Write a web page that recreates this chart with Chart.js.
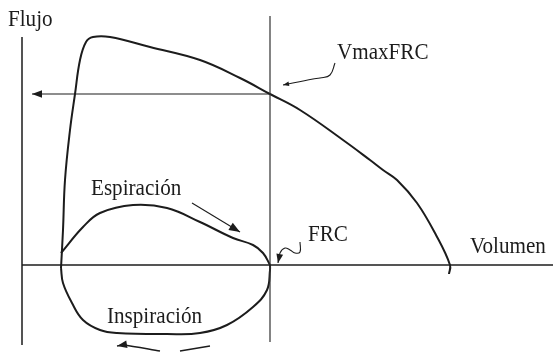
<!DOCTYPE html>
<html>
<head>
<meta charset="utf-8">
<script src="https://cdn.jsdelivr.net/npm/chart.js@4/dist/chart.umd.min.js"></script>
<style>
  html, body { margin: 0; padding: 0; background: #fff; }
  canvas { display: block; }
</style>
</head>
<body>
<canvas id="loop" width="553" height="354"></canvas>
<script>
// Curva flujo-volumen: volumen en x, flujo en y (unidades arbitrarias)

// espiración forzada máxima
const volMax  = [0.78, 0.82, 0.86, 0.96, 1.06, 1.16, 1.28, 1.42, 1.76, 2.56, 3.56, 4.36, 4.96, 5.56, 6.42, 6.96, 7.22, 7.5, 7.9, 8.28, 8.56, 8.54];
const flowMax = [-0.075, 0.875, 2.125, 3.375, 4.275, 5.125, 5.575, 5.7, 5.7, 5.45, 5.125, 4.675, 4.275, 3.875, 3.125, 2.625, 2.375, 2.125, 1.55, 0.75, 0, -0.225];

// volumen corriente: espiración
const volExp  = [0.78, 1.22, 1.56, 2.22, 2.9, 3.56, 4.22, 4.62, 4.82, 4.96];
const flowExp = [0.3, 0.95, 1.3, 1.5, 1.425, 1.075, 0.675, 0.5, 0.3, 0];

// volumen corriente: inspiración
const volInsp  = [4.96, 4.96, 4.9, 4.62, 4.1, 3.56, 2.9, 1.9, 1.56, 1.22, 1.0, 0.82, 0.78];
const flowInsp = [0, -0.125, -0.625, -1.05, -1.5, -1.7, -1.725, -1.7, -1.625, -1.375, -0.95, -0.45, -0.075];

// referencias
const frcVolume   = 4.96;
const vmaxFrcFlow = 4.275;

// flechas y llamadas
const espArrowVol  = [3.4, 4.36];
const espArrowFlow = [1.55, 0.825];
const inspArrowVol  = [[3.76, 3.16], [2.76, 2.02, 1.9]];
const inspArrowFlow = [[-2.025, -2.15], [-2.15, -2.0, -2.025]];
const vmaxCallVol  = [6.26, 6.16, 5.96, 5.82, 5.22];
const vmaxCallFlow = [5.05, 4.75, 4.675, 4.65, 4.5];
const frcCallVol  = [5.56, 5.56, 5.46, 5.36, 5.26, 5.16, 5.12];
const frcCallFlow = [0.575, 0.325, 0.3, 0.375, 0.425, 0.3, 0.05];

const labelTexts = ['Flujo', 'VmaxFRC', 'Espiración', 'FRC', 'Volumen', 'Inspiración'];
const labelVol   = [-0.28, 6.3, 1.38, 5.72, 8.96, 1.7];
const labelFlow  = [5.975, 5.15, 1.75, 0.6, 0.3, -1.45];

const pts = (xs, ys) => xs.map((v, i) => ({ x: v, y: ys[i] }));

const ink = '#1c1c1c';
function line(data, width, extra) {
  return Object.assign({
    data, showLine: true, fill: false, pointRadius: 0,
    borderColor: ink, borderWidth: width, tension: 0
  }, extra || {});
}

const datasets = [
  // ejes
  line(pts([0, 0], [5.7, -2.0]), 1.5),
  line(pts([0, 10.7], [0, 0]), 1.5),
  line(pts([frcVolume, frcVolume], [6.225, -1.925]), 1.2, { borderColor: '#333' }),
  // flecha de VmaxFRC hacia el eje
  line(pts([frcVolume, 0.2], [vmaxFrcFlow, vmaxFrcFlow]), 1.2, { arrowHead: 10 }),
  // curvas
  line(pts(volMax, flowMax), 2, { tension: 0.4 }),
  line(pts(volExp, flowExp), 2, { tension: 0.4 }),
  line(pts(volInsp, flowInsp), 2, { tension: 0.4 }),
  // anotaciones
  line(pts(espArrowVol, espArrowFlow), 1.1, { arrowHead: 11 }),
  line(pts(inspArrowVol[0], inspArrowFlow[0]), 1.3, { tension: 0.3 }),
  line(pts(inspArrowVol[1], inspArrowFlow[1]), 1.3, { tension: 0.3, arrowHead: 10 }),
  line(pts(vmaxCallVol, vmaxCallFlow), 1.1, { tension: 0.4, arrowHead: 6 }),
  line(pts(frcCallVol, frcCallFlow), 1.1, { tension: 0.4, arrowHead: 9 })
];

const annotate = {
  id: 'annotate',
  afterDatasetsDraw(chart) {
    const { ctx, scales: { x, y } } = chart;
    ctx.save();
    ctx.fillStyle = ink;

    // puntas de flecha al final de cada trazo marcado
    chart.data.datasets.forEach((ds, i) => {
      if (!ds.arrowHead) return;
      const p = chart.getDatasetMeta(i).data;
      const a = p[p.length - 2], b = p[p.length - 1];
      const ang = Math.atan2(b.y - a.y, b.x - a.x);
      const L = ds.arrowHead, w = L * 0.38;
      const cx = Math.cos(ang), cy = Math.sin(ang);
      ctx.beginPath();
      ctx.moveTo(b.x, b.y);
      ctx.lineTo(b.x - L * cx - w * cy, b.y - L * cy + w * cx);
      ctx.lineTo(b.x - L * cx + w * cy, b.y - L * cy - w * cx);
      ctx.closePath();
      ctx.fill();
    });

    ctx.font = '24px "Liberation Serif", "DejaVu Serif", serif';
    ctx.textBaseline = 'alphabetic';
    labelTexts.forEach((t, i) => {
      ctx.save();
      ctx.translate(x.getPixelForValue(labelVol[i]), y.getPixelForValue(labelFlow[i]));
      ctx.scale(0.88, 1);
      ctx.fillText(t, 0, 0);
      ctx.restore();
    });
    ctx.restore();
  }
};

new Chart(document.getElementById('loop'), {
  type: 'scatter',
  data: { datasets },
  options: {
    responsive: false,
    animation: false,
    devicePixelRatio: 1,
    layout: { padding: 0 },
    plugins: { legend: { display: false }, tooltip: { enabled: false } },
    scales: {
      x: { type: 'linear', display: false, min: -0.44, max: 10.62 },
      y: { type: 'linear', display: false, min: -2.225, max: 6.625 }
    }
  },
  plugins: [annotate]
});
</script>
</body>
</html>
